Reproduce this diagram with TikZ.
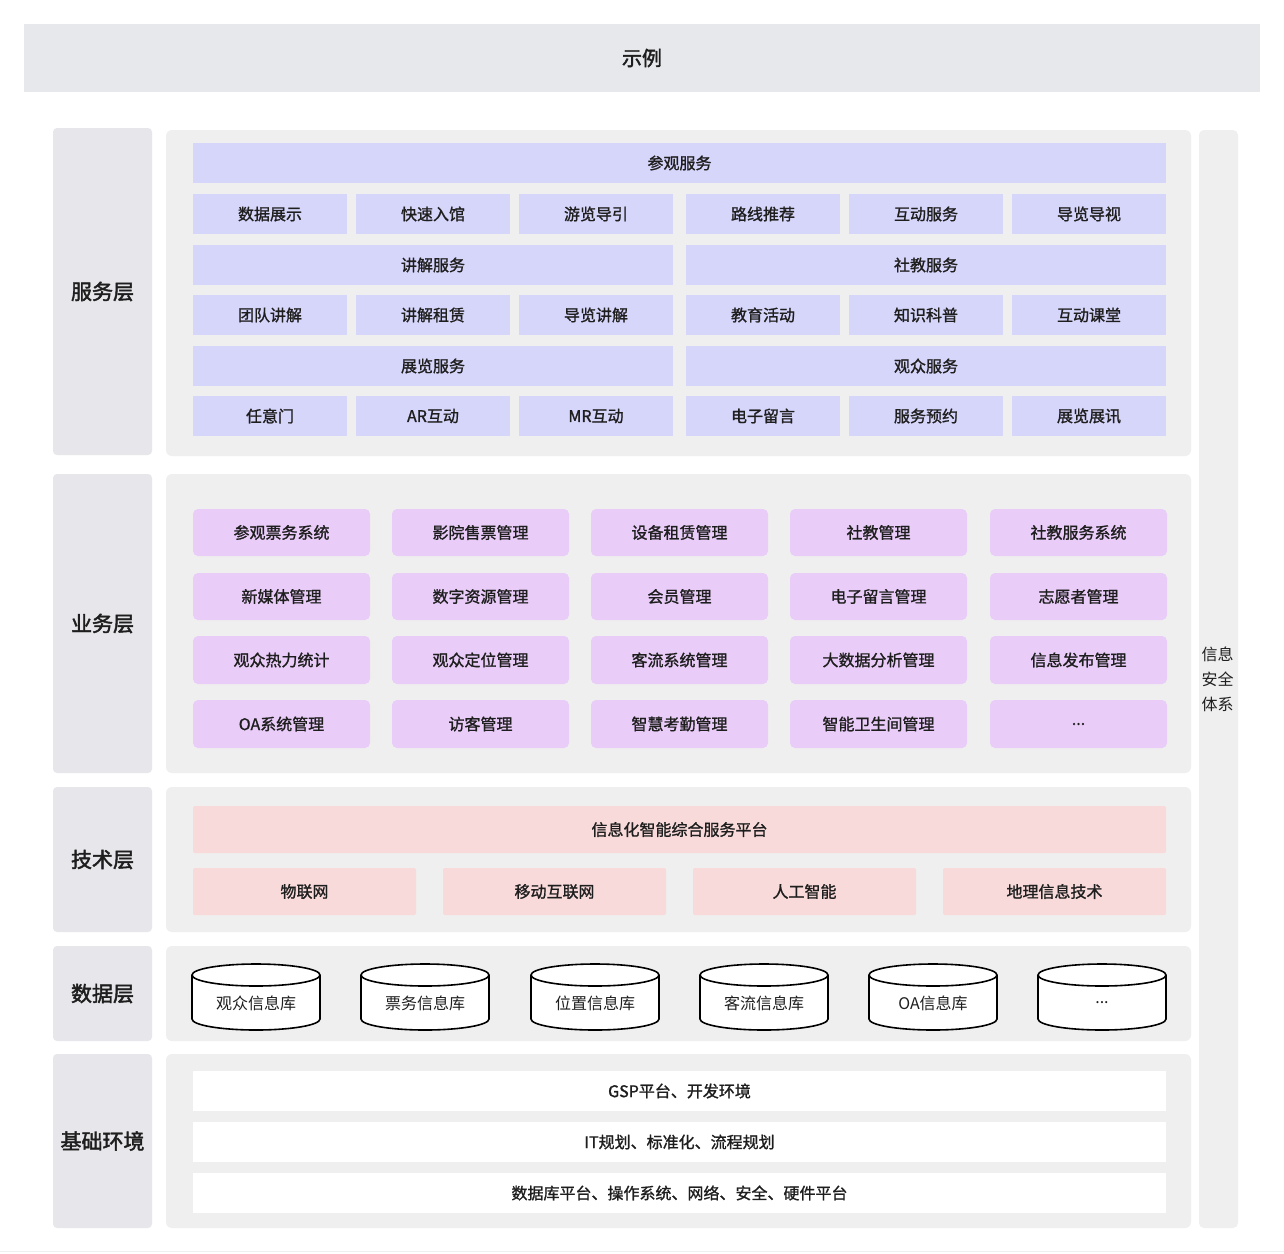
\documentclass[tikz,border=0pt]{standalone}
\usepackage{fontspec}
\setmainfont{Noto Sans CJK SC}[FakeBold=1.2]
\newfontfamily\cjkl{Noto Sans CJK SC}
\newfontfamily\cjkb{Noto Sans CJK SC}[FakeBold=2]
\definecolor{titlebg}{HTML}{E7E8EC}
\definecolor{labelbg}{HTML}{E7E7EB}
\definecolor{panelbg}{HTML}{EFEFEF}
\definecolor{svcbg}{HTML}{D6D5FA}
\definecolor{bizbg}{HTML}{E9CCF8}
\definecolor{techbg}{HTML}{F8DADA}
\definecolor{txt}{HTML}{1E1E1E}
\tikzset{
  every node/.style={inner sep=0pt, outer sep=0pt, text=txt},
  titlebox/.style={fill=titlebg, font=\cjkb\fontsize{20}{24}\selectfont},
  labelbox/.style={fill=labelbg, rounded corners=4pt, font=\cjkb\fontsize{21}{25}\selectfont},
  panel/.style={fill=panelbg, rounded corners=6pt},
  sidebox/.style={fill=panelbg, rounded corners=5pt},
  svc/.style={fill=svcbg, font=\fontsize{16}{19}\selectfont},
  biz/.style={fill=bizbg, rounded corners=5pt, font=\fontsize{16}{19}\selectfont},
  tech/.style={fill=techbg, rounded corners=2pt, font=\fontsize{16}{19}\selectfont},
  base/.style={fill=white, font=\fontsize{16}{19}\selectfont},
  dbtext/.style={font=\cjkl\fontsize{16}{19}\selectfont},
  dbshape/.style={draw=black, line width=1.6pt, fill=white},
}
\newcommand\bx[7]{\node[#6, minimum width={#4pt-#2pt}, minimum height={#5pt-#3pt}] (#1) at ({(#2+#4)/2},{(#3+#5)/2}) {#7};}
\newcommand\dbcyl[4]{%
  \path[dbshape] (#2,975) -- (#2,1019) arc[start angle=180, end angle=0, x radius={(#3-#2)/2}, y radius=11] -- (#3,975) arc[start angle=0, end angle=-180, x radius={(#3-#2)/2}, y radius=11] -- cycle;
  \draw[dbshape, fill=none] (#2,975) arc[start angle=180, end angle=0, x radius={(#3-#2)/2}, y radius=11];
  \node[dbtext] (#1) at ({(#2+#3)/2},1003) {#4};}
\begin{document}
\begin{tikzpicture}[x=1pt, y=-1pt]
\path[use as bounding box, fill=white] (0,0) rectangle (1284,1253);
\draw[panelbg, line width=1pt] (0,1251) -- (1284,1251);
% title
\bx{title}{24}{24}{1260}{92}{titlebox}{示例}
% left labels
\bx{lsvc}{53}{128}{152}{455}{labelbox}{服务层}
\bx{lbiz}{53}{474}{152}{773}{labelbox}{业务层}
\bx{ltech}{53}{787}{152}{932}{labelbox}{技术层}
\bx{ldata}{53}{946}{152}{1041}{labelbox}{数据层}
\bx{lbase}{53}{1054}{152}{1228}{labelbox}{基础环境}
% panels
\bx{psvc}{166}{130}{1191}{456}{panel}{}
\bx{pbiz}{166}{474}{1191}{773}{panel}{}
\bx{ptech}{166}{787}{1191}{932}{panel}{}
\bx{pdata}{166}{946}{1191}{1041}{panel}{}
\bx{pbase}{166}{1054}{1191}{1228}{panel}{}
% right column
\bx{side}{1199}{130}{1238}{1228}{sidebox}{}
\node[font=\cjkl\fontsize{16}{25}\selectfont, align=center] (sidetxt) at (1217.5,679) {信息\\安全\\体系};
% service layer
\bx{s0}{193}{143}{1166}{183}{svc}{参观服务}
\bx{s11}{193}{194}{347}{234}{svc}{数据展示}
\bx{s12}{356}{194}{510}{234}{svc}{快速入馆}
\bx{s13}{519}{194}{673}{234}{svc}{游览导引}
\bx{s14}{686}{194}{840}{234}{svc}{路线推荐}
\bx{s15}{849}{194}{1003}{234}{svc}{互动服务}
\bx{s16}{1012}{194}{1166}{234}{svc}{导览导视}
\bx{s21}{193}{245}{673}{285}{svc}{讲解服务}
\bx{s22}{686}{245}{1166}{285}{svc}{社教服务}
\bx{s31}{193}{295}{347}{335}{svc}{团队讲解}
\bx{s32}{356}{295}{510}{335}{svc}{讲解租赁}
\bx{s33}{519}{295}{673}{335}{svc}{导览讲解}
\bx{s34}{686}{295}{840}{335}{svc}{教育活动}
\bx{s35}{849}{295}{1003}{335}{svc}{知识科普}
\bx{s36}{1012}{295}{1166}{335}{svc}{互动课堂}
\bx{s41}{193}{346}{673}{386}{svc}{展览服务}
\bx{s42}{686}{346}{1166}{386}{svc}{观众服务}
\bx{s51}{193}{396}{347}{436}{svc}{任意门}
\bx{s52}{356}{396}{510}{436}{svc}{AR互动}
\bx{s53}{519}{396}{673}{436}{svc}{MR互动}
\bx{s54}{686}{396}{840}{436}{svc}{电子留言}
\bx{s55}{849}{396}{1003}{436}{svc}{服务预约}
\bx{s56}{1012}{396}{1166}{436}{svc}{展览展讯}
% business layer
\bx{b11}{193}{509}{370}{556}{biz}{参观票务系统}
\bx{b12}{392}{509}{569}{556}{biz}{影院售票管理}
\bx{b13}{591}{509}{768}{556}{biz}{设备租赁管理}
\bx{b14}{790}{509}{967}{556}{biz}{社教管理}
\bx{b15}{990}{509}{1167}{556}{biz}{社教服务系统}
\bx{b21}{193}{573}{370}{620}{biz}{新媒体管理}
\bx{b22}{392}{573}{569}{620}{biz}{数字资源管理}
\bx{b23}{591}{573}{768}{620}{biz}{会员管理}
\bx{b24}{790}{573}{967}{620}{biz}{电子留言管理}
\bx{b25}{990}{573}{1167}{620}{biz}{志愿者管理}
\bx{b31}{193}{636}{370}{684}{biz}{观众热力统计}
\bx{b32}{392}{636}{569}{684}{biz}{观众定位管理}
\bx{b33}{591}{636}{768}{684}{biz}{客流系统管理}
\bx{b34}{790}{636}{967}{684}{biz}{大数据分析管理}
\bx{b35}{990}{636}{1167}{684}{biz}{信息发布管理}
\bx{b41}{193}{700}{370}{748}{biz}{OA系统管理}
\bx{b42}{392}{700}{569}{748}{biz}{访客管理}
\bx{b43}{591}{700}{768}{748}{biz}{智慧考勤管理}
\bx{b44}{790}{700}{967}{748}{biz}{智能卫生间管理}
\bx{b45}{990}{700}{1167}{748}{biz}{...}
% tech layer
\bx{t0}{193}{806}{1166}{853}{tech}{信息化智能综合服务平台}
\bx{t1}{193}{868}{416}{915}{tech}{物联网}
\bx{t2}{443}{868}{666}{915}{tech}{移动互联网}
\bx{t3}{693}{868}{916}{915}{tech}{人工智能}
\bx{t4}{943}{868}{1166}{915}{tech}{地理信息技术}
% data layer
\dbcyl{d1}{192}{320}{观众信息库}
\dbcyl{d2}{361}{489}{票务信息库}
\dbcyl{d3}{531}{659}{位置信息库}
\dbcyl{d4}{700}{828}{客流信息库}
\dbcyl{d5}{869}{997}{OA信息库}
\dbcyl{d6}{1038}{1166}{...}
% base layer
\bx{e1}{193}{1071}{1166}{1111}{base}{GSP平台、开发环境}
\bx{e2}{193}{1122}{1166}{1162}{base}{IT规划、标准化、流程规划}
\bx{e3}{193}{1173}{1166}{1213}{base}{数据库平台、操作系统、网络、安全、硬件平台}
\end{tikzpicture}
\end{document}
